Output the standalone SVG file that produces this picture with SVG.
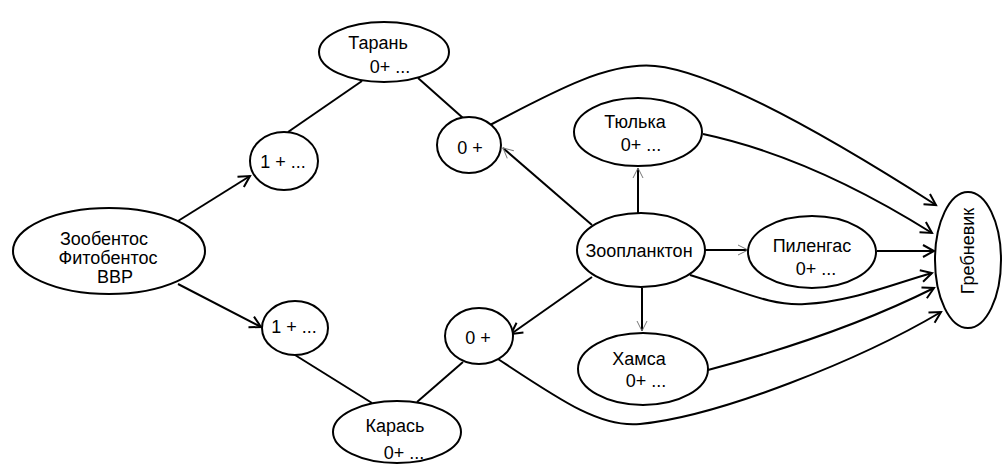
<svg xmlns="http://www.w3.org/2000/svg" width="1003" height="466" viewBox="0 0 1003 466">
<style>
.n{fill:#fff;stroke:#000;stroke-width:2}
.t{font-family:"Liberation Sans",Arial,sans-serif;font-size:18px;fill:#000;text-anchor:middle}
.c{fill:none;stroke:#000;stroke-width:2}
.a{marker-end:url(#ah)}
.th{marker-end:url(#at)}
</style>
<defs>
<marker id="ah" markerWidth="16" markerHeight="16" refX="13" refY="8" orient="auto" markerUnits="userSpaceOnUse">
<path d="M2,2 L13,8 L2,14" fill="none" stroke="#000" stroke-width="2"/>
</marker>
<marker id="at" markerWidth="16" markerHeight="16" refX="13" refY="8" orient="auto" markerUnits="userSpaceOnUse">
<path d="M3,3 L13,8 L3,13" fill="none" stroke="#777" stroke-width="1"/>
</marker>
</defs>
<rect width="1003" height="466" fill="#fff"/>
<g id="connectors">
<line class="c a" x1="178" y1="221" x2="250" y2="176"/>
<line class="c a" x1="178" y1="284" x2="261" y2="327"/>
<line class="c" x1="288" y1="132" x2="362" y2="81"/>
<line class="c" x1="418" y1="78" x2="463" y2="118"/>
<line class="c" x1="295" y1="355" x2="372" y2="403"/>
<line class="c" x1="417" y1="402" x2="463" y2="362"/>
<path class="c a" d="M490,125 C560,88 610,62 655,66 C720,72 850,150 936,205"/>
<path class="c a" d="M703,134 Q811,157 932,233"/>
<line class="c th" x1="592" y1="225" x2="503" y2="148"/>
<line class="c a" x1="592" y1="277" x2="511" y2="334"/>
<line class="c th" x1="638" y1="213" x2="638" y2="168"/>
<line class="c th" x1="705" y1="250" x2="748" y2="250"/>
<line class="c th" x1="642" y1="288" x2="642" y2="331"/>
<line class="c a" x1="877" y1="251" x2="934" y2="251"/>
<path class="c a" d="M690,275 C745,292 770,306 805,304 C850,302 890,285 932,273"/>
<path class="c a" d="M708,370 Q840,335 934,288"/>
<path class="c a" d="M498,359 C560,400 600,428 640,424 C720,416 860,360 941,312"/>
</g>
<g id="zoobentos"><ellipse class="n" cx="109" cy="251" rx="96" ry="43"/>
<text class="t" x="104" y="245">Зообентос</text><text class="t" x="108" y="264">Фитобентос</text><text class="t" x="115" y="283">ВВР</text></g>
<g id="taran"><ellipse class="n" cx="384" cy="52" rx="65" ry="30"/>
<text class="t" x="378" y="49">Тарань</text><text class="t" x="390" y="73">0+ ...</text></g>
<g id="age1top"><ellipse class="n" cx="284" cy="161" rx="34" ry="29"/><text class="t" x="283" y="168">1 + ...</text></g>
<g id="age0top"><ellipse class="n" cx="469" cy="145" rx="32" ry="28"/><text class="t" x="470" y="154">0 +</text></g>
<g id="tyulka"><ellipse class="n" cx="638" cy="132" rx="64" ry="34"/>
<text class="t" x="635" y="128">Тюлька</text><text class="t" x="641" y="151">0+ ...</text></g>
<g id="zooplankton"><ellipse class="n" cx="641" cy="250" rx="64" ry="37"/>
<text class="t" x="639" y="257">Зоопланктон</text></g>
<g id="pilengas"><ellipse class="n" cx="812" cy="252" rx="64" ry="36"/>
<text class="t" x="812" y="252">Пиленгас</text><text class="t" x="816" y="275">0+ ...</text></g>
<g id="hamsa"><ellipse class="n" cx="643" cy="369" rx="65" ry="36"/>
<text class="t" x="639" y="365">Хамса</text><text class="t" x="646" y="387">0+ ...</text></g>
<g id="karas"><ellipse class="n" cx="397" cy="432" rx="64" ry="31"/>
<text class="t" x="395" y="432">Карась</text><text class="t" x="404" y="459">0+ ...</text></g>
<g id="age1bottom"><ellipse class="n" cx="295" cy="328" rx="33" ry="27"/><text class="t" x="294" y="333">1 + ...</text></g>
<g id="age0bottom"><ellipse class="n" cx="479" cy="336" rx="34" ry="28"/><text class="t" x="478" y="344">0 +</text></g>
<g id="grebnevik"><ellipse class="n" cx="968" cy="260" rx="33" ry="68"/>
<text class="t" transform="translate(974,251) rotate(-90)" x="0" y="0">Гребневик</text></g>
</svg>
